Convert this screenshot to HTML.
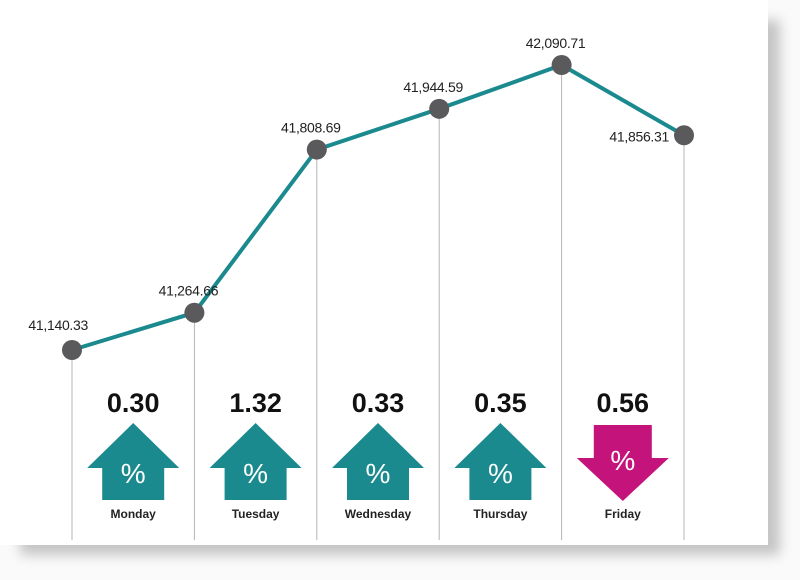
<!DOCTYPE html>
<html><head><meta charset="utf-8"><style>
html,body{margin:0;padding:0;background:#fafafa;}
svg{display:block;font-family:"Liberation Sans",sans-serif;}
</style></head><body>
<svg width="800" height="580" viewBox="0 0 800 580">
<defs><filter id="sh" x="-5%" y="-5%" width="115%" height="115%"><feGaussianBlur stdDeviation="6"/></filter></defs>
<rect x="20" y="20" width="760" height="535" fill="#c4c4c4" filter="url(#sh)"/>
<rect x="0" y="0" width="768" height="545" fill="#fff"/>
<g id="grid"></g><g id="line"></g><g id="pts"></g><g id="lbls"></g><g id="changes"></g>
</svg>
<script>
const values=[41140.33,41264.66,41808.69,41944.59,42090.71,41856.31];
const valueLabels=["41,140.33","41,264.66","41,808.69","41,944.59","42,090.71","41,856.31"];
const days=["Monday","Tuesday","Wednesday","Thursday","Friday"];
const changes=[0.30,1.32,0.33,0.35,0.56];
const directions=["up","up","up","up","down"];
const NS="http://www.w3.org/2000/svg";
function mk(t,a,p){const e=document.createElementNS(NS,t);for(const k in a)e.setAttribute(k,a[k]);p.appendChild(e);return e;}
const x=i=>72+i*122.4;
const vmin=41140.33,vmax=42090.71;
const y=v=>350-(v-vmin)/(vmax-vmin)*285;
const G=id=>document.getElementById(id);
values.forEach((v,i)=>{
 const l=mk('line',{x1:x(i),x2:x(i),y1:y(v),y2:540,stroke:'#b5b5b5','stroke-width':1},G('grid'));
 
 
});
const pl=mk('polyline',{points:values.map((v,i)=>x(i)+','+y(v)).join(' '),fill:'none',stroke:'#1a8a8f','stroke-width':4},G('line'));


values.forEach((v,i)=>{
 const c=mk('circle',{cx:x(i),cy:y(v),r:10,fill:'#5a5a5c'},G('pts'));
 
 
 const last=i===values.length-1;
 const t=mk('text',{x:last?x(i)-15:x(i)-10,y:last?y(v)+6:y(v)-17,'text-anchor':'end','font-size':14,fill:'#222','letter-spacing':'-0.3'},G('lbls'));
 if(!last&&i>0){t.setAttribute('text-anchor','middle');t.setAttribute('x',x(i)-6);}
 if(i===0){t.setAttribute('x',x(i)+16);t.setAttribute('y',y(v)-20);}
 t.textContent=valueLabels[i];
 
 
});
changes.forEach((c,i)=>{
 const cx=(x(i)+x(i+1))/2;
 const up=directions[i]==='up';
 const col=up?'#1a8a8f':'#c4137a';
 const g=mk('g',{},G('changes'));
 
 
 const n=mk('text',{x:cx,y:412,'text-anchor':'middle','font-size':27,'font-weight':'bold',fill:'#111'},g);
 n.textContent=c.toFixed(2);
 
 
 const pts=up?[[cx,423],[cx+46,468],[cx+31,468],[cx+31,500],[cx-31,500],[cx-31,468],[cx-46,468]]
            :[[cx-29,425],[cx+29,425],[cx+29,458],[cx+46,458],[cx,501],[cx-46,458],[cx-29,458]];
 const a=mk('polygon',{points:pts.map(p=>p.join(',')).join(' '),fill:col},g);
 
 
 const p=mk('text',{x:cx,y:up?483:470,'text-anchor':'middle','font-size':28,fill:'#fff'},g);
 p.textContent='%';
 
 
 const d=mk('text',{x:cx,y:518,'text-anchor':'middle','font-size':12,'font-weight':'bold',fill:'#222'},g);
 d.textContent=days[i];
 
 
});
</script>
</body></html>
